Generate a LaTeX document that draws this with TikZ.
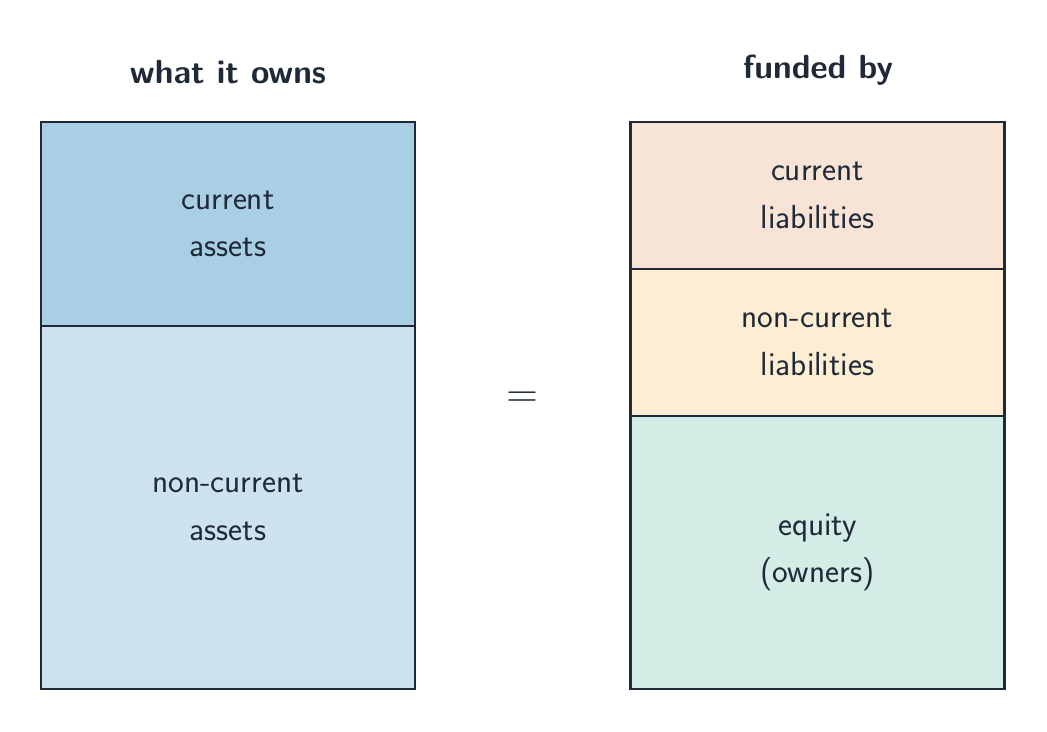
\documentclass[tikz,border=0pt]{standalone}
\usepackage{tikz}
\usetikzlibrary{positioning}
\definecolor{ink}{HTML}{1F2937}
\definecolor{curAsset}{HTML}{A9CFE4}
\definecolor{ncAsset}{HTML}{CCE2EF}
\definecolor{curLiab}{HTML}{F8E4D7}
\definecolor{ncLiab}{HTML}{FCEDD3}
\definecolor{eqty}{HTML}{D3ECE5}
\tikzset{
  block/.style = {draw=ink, line width=1.2pt, text=ink, align=center,
                  minimum width=7.48cm, inner sep=0pt,
                  font=\sffamily\fontsize{19}{27}\selectfont},
  head/.style  = {text=ink, font=\sffamily\bfseries\fontsize{19}{27}\selectfont}
}
\begin{document}
\begin{tikzpicture}[x=0.02cm,y=-0.02cm]
   \useasboundingbox (0,0) rectangle (1047,731);
   % titles
   \node[head] (owns)   at (228,72) {what it owns};
   \node[head] (funded) at (818,70) {funded by};
   % assets
   \node[block, fill=curAsset, minimum height=4.08cm] (ca)  at (228,224) {current\\assets};
   \node[block, fill=ncAsset,  minimum height=7.26cm] (nca) at (228,507.5) {non-current\\assets};
   % liabilities and equity
   \node[block, fill=curLiab, minimum height=2.94cm] (cl)  at (817.5,195.5) {current\\liabilities};
   \node[block, fill=ncLiab,  minimum height=2.94cm] (ncl) at (817.5,342.5) {non-current\\liabilities};
   \node[block, fill=eqty,    minimum height=5.46cm] (eq)  at (817.5,552.5) {equity\\(owners)};
   % equals sign
   \node[text=ink, font=\fontsize{26}{30}\selectfont] (eqsign) at (522,400) {$=$};
\end{tikzpicture}
\end{document}
